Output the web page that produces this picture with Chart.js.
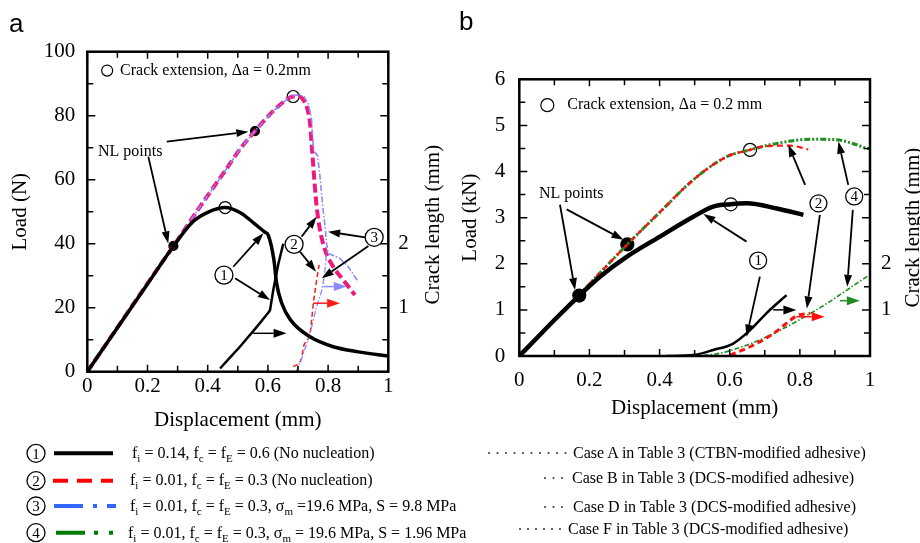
<!DOCTYPE html>
<html><head><meta charset="utf-8">
<script src="https://cdn.jsdelivr.net/npm/chart.js@4/dist/chart.umd.min.js"></script>
<style>
html,body{margin:0;padding:0;background:#fff;width:920px;height:543px;overflow:hidden;font-family:'Liberation Serif','Times New Roman',serif;color:#000;}
canvas{position:absolute;top:0;}
#ca{left:0;} #cb{left:460px;}
.pl{position:absolute;font-family:'Liberation Sans',Arial,sans-serif;font-size:26px;line-height:26px;}
.leg{position:absolute;font-size:16px;height:20px;line-height:20px;white-space:nowrap;}
.leg sub{font-size:11px;vertical-align:-4px;line-height:0;}
#lg{position:absolute;left:0;top:440px;}
</style></head>
<body>
<canvas id="ca" width="460" height="445"></canvas>
<canvas id="cb" width="460" height="445"></canvas>
<div class="pl" style="left:9px;top:10px;">a</div>
<div class="pl" style="left:459px;top:8px;">b</div>

<svg id="lg" width="920" height="103">
  <g fill="none" stroke="#000" stroke-width="1.3">
    <circle cx="36" cy="13.3" r="9"/><circle cx="36" cy="40.7" r="9"/>
    <circle cx="36" cy="66" r="9"/><circle cx="36" cy="92.7" r="9"/>
  </g>
  <g font-family="Liberation Serif" font-size="15" text-anchor="middle" fill="#000">
    <text x="36" y="18.5">1</text><text x="36" y="45.9">2</text>
    <text x="36" y="71.2">3</text><text x="36" y="97.9">4</text>
  </g>
  <line x1="54" y1="13.3" x2="113" y2="13.3" stroke="#000" stroke-width="4"/>
  <line x1="53" y1="40.7" x2="113" y2="40.7" stroke="#ff0000" stroke-width="4" stroke-dasharray="15 9"/>
  <line x1="54" y1="66" x2="116" y2="66" stroke="#3366ff" stroke-width="4" stroke-dasharray="29 10 4 10 9"/>
  <line x1="56" y1="92.7" x2="113" y2="92.7" stroke="#007a00" stroke-width="4" stroke-dasharray="29 9 4 11 4"/>
  <g fill="#333">
    <circle cx="489" cy="13" r="1"/><circle cx="497.5" cy="13" r="1"/><circle cx="506" cy="13" r="1"/><circle cx="514.5" cy="13" r="1"/><circle cx="523" cy="13" r="1"/><circle cx="531.5" cy="13" r="1"/><circle cx="540" cy="13" r="1"/><circle cx="548.5" cy="13" r="1"/><circle cx="557" cy="13" r="1"/><circle cx="565.5" cy="13" r="1"/>
    <circle cx="545" cy="38" r="1"/><circle cx="553.5" cy="38" r="1"/><circle cx="562" cy="38" r="1"/>
    <circle cx="545" cy="67" r="1"/><circle cx="553.5" cy="67" r="1"/><circle cx="562" cy="67" r="1"/>
    <circle cx="520" cy="89" r="1"/><circle cx="528" cy="89" r="1"/><circle cx="536" cy="89" r="1"/><circle cx="544" cy="89" r="1"/><circle cx="552" cy="89" r="1"/><circle cx="560" cy="89" r="1"/>
  </g>
</svg>
<div class="leg" style="left:132px;top:443px;">f<sub>i</sub> = 0.14, f<sub>c</sub> = f<sub>E</sub> = 0.6 (No nucleation)</div>
<div class="leg" style="left:130px;top:470px;">f<sub>i</sub> = 0.01, f<sub>c</sub> = f<sub>E</sub> = 0.3 (No nucleation)</div>
<div class="leg" style="left:130px;top:496px;">f<sub>i</sub> = 0.01, f<sub>c</sub> = f<sub>E</sub> = 0.3, σ<sub>m</sub> =19.6 MPa, S = 9.8 MPa</div>
<div class="leg" style="left:128px;top:523px;">f<sub>i</sub> = 0.01, f<sub>c</sub> = f<sub>E</sub> = 0.3, σ<sub>m</sub> = 19.6 MPa, S = 1.96 MPa</div>
<div class="leg" style="left:573px;top:443px;">Case A in Table 3 (CTBN-modified adhesive)</div>
<div class="leg" style="left:572px;top:468px;">Case B in Table 3 (DCS-modified adhesive)</div>
<div class="leg" style="left:573px;top:497px;">Case D in Table 3 (DCS-modified adhesive)</div>
<div class="leg" style="left:568px;top:519px;">Case F in Table 3 (DCS-modified adhesive)</div>

<script>
// ---------------- DATA: panel a (load in N, crack length in mm) ----------------
const xTicks = [0, 0.2, 0.4, 0.6, 0.8, 1];
const xTickLabels = ['0', '0.2', '0.4', '0.6', '0.8', '1'];
const aYTicks = [0, 20, 40, 60, 80, 100];
const aYTickLabels = ['0', '20', '40', '60', '80', '100'];
const aCrackTicks = [1, 2];
const aCrackTickLabels = ['1', '2'];

const aLoad1X = [0, 0.1, 0.2, 0.286, 0.35, 0.40, 0.458, 0.51, 0.551, 0.59, 0.601, 0.62, 0.629, 0.646, 0.675, 0.74, 0.817, 0.9, 1.0];
const aLoad1Y = [0, 13.7, 27.4, 39.2, 46.8, 49.8, 51.3, 49.6, 46.6, 43.6, 42.7, 34.9, 27.6, 21.4, 16.2, 10.9, 7.8, 6.2, 4.9];
const aCrack1X = [0.441, 0.47, 0.507, 0.563, 0.601, 0.607, 0.618, 0.635, 0.651];
const aCrack1Y = [0.05, 0.2, 0.39, 0.70, 0.92, 0.96, 1.28, 1.69, 2.0];

const aLoad2X = [0, 0.1, 0.2, 0.29, 0.374, 0.452, 0.507, 0.557, 0.618, 0.662, 0.684, 0.705, 0.718, 0.729, 0.74, 0.745, 0.751, 0.756, 0.762, 0.773, 0.79, 0.817, 0.85, 0.889];
const aLoad2Y = [0, 13.8, 27.6, 39.8, 51.5, 62, 69.5, 75.2, 81.5, 85, 86, 86, 84.9, 82.8, 77.6, 71.4, 64.1, 57.8, 51.6, 44.3, 38, 32.8, 28.7, 24];
const aCrack2X = [0.684, 0.712, 0.718, 0.74, 0.751, 0.762, 0.77];
const aCrack2Y = [0.08, 0.21, 0.39, 0.6, 1.07, 1.43, 1.67];

const aLoad3X = [0, 0.1, 0.2, 0.29, 0.374, 0.452, 0.507, 0.557, 0.618, 0.662, 0.684, 0.701, 0.72, 0.735, 0.745, 0.748, 0.752, 0.765, 0.772, 0.778, 0.784, 0.79, 0.795, 0.8, 0.82, 0.839, 0.867, 0.9];
const aLoad3Y = [0, 13.8, 27.6, 39.8, 51.5, 62, 69.5, 75.2, 81.5, 85, 86.2, 86.5, 86, 83.5, 79, 74, 69, 67.5, 62, 56, 50, 45.3, 40, 37, 36.2, 35.4, 32.8, 28.1];
const aCrack3X = [0.693, 0.705, 0.718, 0.74, 0.762, 0.779, 0.79, 0.795, 0.80];
const aCrack3Y = [0, 0.12, 0.29, 0.6, 1.02, 1.28, 1.59, 1.85, 1.88];

const aNLX = [0.286, 0.557];
const aNLY = [39.3, 75.2];
const aExtX = [0.458, 0.684];
const aExtY = [51.3, 86];

// ---------------- DATA: panel b (load in kN, crack length in mm) ----------------
const bYTicks = [0, 1, 2, 3, 4, 5, 6];
const bYTickLabels = ['0', '1', '2', '3', '4', '5', '6'];
const bCrackTicks = [1, 2];
const bCrackTickLabels = ['1', '2'];

const bLoad1X = [0, 0.05, 0.1, 0.171, 0.23, 0.306, 0.401, 0.496, 0.553, 0.603, 0.648, 0.734, 0.81];
const bLoad1Y = [0, 0.39, 0.78, 1.31, 1.72, 2.15, 2.59, 3.02, 3.24, 3.29, 3.31, 3.2, 3.06];
const bCrack1X = [0.42, 0.496, 0.553, 0.61, 0.658, 0.705, 0.762];
const bCrack1Y = [0, 0.02, 0.13, 0.27, 0.56, 0.93, 1.32];

const bLoad2X = [0, 0.05, 0.1, 0.171, 0.211, 0.308, 0.401, 0.496, 0.591, 0.658, 0.70, 0.772, 0.824];
const bLoad2Y = [0, 0.39, 0.78, 1.33, 1.65, 2.42, 3.12, 3.82, 4.32, 4.47, 4.55, 4.56, 4.48];
const bCrack2X = [0.601, 0.658, 0.725, 0.762, 0.791, 0.829];
const bCrack2Y = [0.02, 0.2, 0.49, 0.71, 0.87, 0.93];

const bLoad4X = [0, 0.05, 0.1, 0.171, 0.211, 0.308, 0.401, 0.496, 0.591, 0.658, 0.734, 0.829, 0.905, 0.962, 0.995, 1.0];
const bLoad4Y = [0, 0.39, 0.78, 1.33, 1.65, 2.42, 3.12, 3.82, 4.32, 4.47, 4.61, 4.70, 4.69, 4.58, 4.5, 4.5];
const bCrack4X = [0.496, 0.572, 0.686, 0.781, 0.877, 0.934, 0.995];
const bCrack4Y = [0, 0.06, 0.35, 0.71, 1.14, 1.43, 1.74];

const bNLX = [0.171, 0.308];
const bNLY = [1.31, 2.42];
const bExtX = [0.603, 0.658];
const bExtY = [3.29, 4.47];

// ---------------- helpers ----------------
Chart.defaults.font.family = "'Liberation Serif','Times New Roman',serif";
Chart.defaults.color = '#000';
const SERIF = "'Liberation Serif','Times New Roman',serif";
function pts(xs, ys) { return xs.map((x, i) => ({x: x, y: ys[i]})); }

function line(xs, ys, color, width, dash, axis, interp) {
  return {data: pts(xs, ys), borderColor: color, borderWidth: width, borderDash: dash || [],
    yAxisID: axis || 'y', pointRadius: 0, fill: false,
    cubicInterpolationMode: interp === false ? 'default' : 'monotone', tension: 0};
}
function marks(xs, ys, r, fillColor) {
  return {data: pts(xs, ys), showLine: false, pointRadius: r, pointBackgroundColor: fillColor,
    pointBorderColor: '#000', pointBorderWidth: 1.2, yAxisID: 'y'};
}

function arrow(ctx, x1, y1, x2, y2, color, lw, hl, hw) {
  const a = Math.atan2(y2 - y1, x2 - x1);
  const bx = x2 - hl * Math.cos(a), by = y2 - hl * Math.sin(a);
  ctx.strokeStyle = color; ctx.fillStyle = color; ctx.lineWidth = lw; ctx.setLineDash([]);
  ctx.beginPath(); ctx.moveTo(x1, y1); ctx.lineTo(bx, by); ctx.stroke();
  ctx.beginPath(); ctx.moveTo(x2, y2);
  ctx.lineTo(bx + hw * Math.sin(a), by - hw * Math.cos(a));
  ctx.lineTo(bx - hw * Math.sin(a), by + hw * Math.cos(a));
  ctx.closePath(); ctx.fill();
}

function makeChart(id, P) {
  const deco = {
    id: 'deco' + id,
    afterDatasetsDraw(chart) {
      const ctx = chart.ctx, xs = chart.scales.x, ys = chart.scales.y;
      const X = v => xs.getPixelForValue(v), Y = v => ys.getPixelForValue(v);
      ctx.save();
      P.arrows.forEach(a => arrow(ctx, X(a[0]), Y(a[1]), X(a[2]), Y(a[3]), '#000', 1.8, 12, 4));
      P.hArrows.forEach(a => arrow(ctx, X(a[0]), Y(a[2]), X(a[1]), Y(a[2]), a[3], 1.5, 13, 4.5));
      P.circled.forEach(c => {
        ctx.beginPath(); ctx.arc(X(c[0]), Y(c[1]), P.cr, 0, Math.PI * 2);
        ctx.fillStyle = '#fff'; ctx.fill();
        ctx.strokeStyle = '#000'; ctx.lineWidth = 1.3; ctx.stroke();
        ctx.fillStyle = '#000'; ctx.font = '15px ' + SERIF; ctx.textAlign = 'center'; ctx.textBaseline = 'middle';
        ctx.fillText(c[2], X(c[0]), Y(c[1]) + 1);
      });
      ctx.font = '16px ' + SERIF; ctx.textAlign = 'left'; ctx.textBaseline = 'middle'; ctx.fillStyle = '#000';
      ctx.fillText('NL points', X(P.nlText[0]), Y(P.nlText[1]));
      ctx.beginPath(); ctx.arc(X(P.legPt[0]), Y(P.legPt[1]), P.legR, 0, Math.PI * 2);
      ctx.fillStyle = '#fff'; ctx.fill(); ctx.lineWidth = 1.2; ctx.strokeStyle = '#000'; ctx.stroke();
      ctx.fillStyle = '#000';
      ctx.fillText(P.legText, X(P.legPt[2]), Y(P.legPt[1]));
      ctx.restore();
    },
    afterDraw(chart) {
      const ctx = chart.ctx, ca = chart.chartArea, xs = chart.scales.x, ys = chart.scales.y;
      ctx.save();
      ctx.strokeStyle = '#000'; ctx.lineWidth = 1.5; ctx.setLineDash([]);
      ctx.beginPath();
      for (let v = 0; v <= 1.0001; v += 0.1) {
        const px = xs.getPixelForValue(v);
        const L = (Math.round(v * 10) % 2 === 0) ? 7 : 6;
        ctx.moveTo(px, ca.bottom); ctx.lineTo(px, ca.bottom - L);
        ctx.moveTo(px, ca.top); ctx.lineTo(px, ca.top + L);
      }
      for (let k = 0; k <= P.yMax / P.yMinor + 0.01; k++) {
        const py = ys.getPixelForValue(k * P.yMinor);
        const L = (k % 2 === 0) ? 8 : 6;
        ctx.moveTo(ca.left, py); ctx.lineTo(ca.left + L, py);
        ctx.moveTo(ca.right, py); ctx.lineTo(ca.right - L, py);
      }
      ctx.stroke();
      ctx.lineWidth = 2.5;
      ctx.strokeRect(ca.left, ca.top, ca.right - ca.left, ca.bottom - ca.top);
      // right axis title (reads bottom-to-top like the left one)
      const y2 = chart.scales.y2;
      ctx.translate(y2.right - P.rtOff, (ca.top + ca.bottom) / 2 + P.rtDy);
      ctx.rotate(-Math.PI / 2);
      ctx.font = '21px ' + SERIF; ctx.textAlign = 'center'; ctx.textBaseline = 'middle'; ctx.fillStyle = '#000';
      ctx.fillText('Crack length (mm)', 0, 0);
      ctx.restore();
    }
  };
  return new Chart(document.getElementById(id), {
    type: 'line',
    data: {datasets: P.datasets},
    options: {
      responsive: false, animation: false, devicePixelRatio: 1,
      layout: {padding: {top: P.top, left: 0, right: 0, bottom: 0}},
      plugins: {legend: {display: false}, tooltip: {enabled: false}},
      scales: {
        x: {type: 'linear', min: 0, max: 1,
          afterFit: s => { s.height = P.xH; },
          afterBuildTicks: s => { s.ticks = xTicks.map(v => ({value: v})); },
          ticks: {callback: (v, i) => xTickLabels[i], font: {size: 21}, padding: P.xPad, maxRotation: 0, autoSkip: false},
          grid: {display: false, drawTicks: false}, border: {display: false},
          title: {display: true, text: 'Displacement (mm)', font: {size: 21, lineHeight: 1}, padding: {top: 0, bottom: P.xTitlePad}}},
        y: {type: 'linear', position: 'left', min: 0, max: P.yMax,
          afterFit: s => { s.width = P.yW; },
          afterBuildTicks: s => { s.ticks = P.yTicks.map(v => ({value: v})); },
          ticks: {callback: (v, i) => P.yLabels[i], font: {size: 21}, padding: P.yPad, autoSkip: false},
          grid: {display: false, drawTicks: false}, border: {display: false},
          title: {display: true, text: P.yTitle, font: {size: 21, lineHeight: 1}, padding: {top: P.yTitlePad, bottom: 0}}},
        y2: {type: 'linear', position: 'right', min: 0, max: P.cMax,
          afterFit: s => { s.width = P.y2W; },
          afterBuildTicks: s => { s.ticks = P.cTicks.map(v => ({value: v})); },
          ticks: {callback: (v, i) => P.cLabels[i], font: {size: 21}, padding: P.y2Pad, autoSkip: false},
          grid: {display: false, drawTicks: false}, border: {display: false}}
      }
    },
    plugins: [deco]
  });
}

// ---------------- panel a ----------------
makeChart('ca', {
  top: 51.7, xH: 445 - 371.7, yW: 87.3, y2W: 460 - 388.3,
  xPad: 2, xTitlePad: 14.5, yPad: 12, yTitlePad: 9.5, y2Pad: 10,
  yMax: 100, yMinor: 10, cMax: 5, rtOff: 27, rtDy: 13,
  yTicks: aYTicks, yLabels: aYTickLabels, cTicks: aCrackTicks, cLabels: aCrackTickLabels,
  yTitle: 'Load (N)',
  datasets: [
    line(aLoad1X, aLoad1Y, '#000', 3.5, [], 'y'),
    line(aCrack1X, aCrack1Y, '#000', 2.5, [], 'y2', false),
    line(aLoad3X, aLoad3Y, '#8a8aff', 1.6, [6, 2, 1.5, 2], 'y', false),
    line(aCrack3X, aCrack3Y, '#8a8aff', 1.3, [6, 2, 1.5, 2], 'y2'),
    line(aLoad2X, aLoad2Y, '#f0187c', 4, [9, 4], 'y'),
    line(aCrack2X, aCrack2Y, '#ff1a1a', 1.5, [5, 3], 'y2'),
    marks(aNLX, aNLY, 4.5, '#000'),
    marks(aExtX, aExtY, 6, '#fff')
  ],
  arrows: [
    [0.2027, 67.2, 0.269, 40.1], [0.264, 71.9, 0.535, 75.0],
    [0.485, 32.8, 0.585, 43.25], [0.491, 29.2, 0.607, 22.4],
    [0.712, 42.2, 0.762, 48.4], [0.707, 37.5, 0.760, 31.25],
    [0.923, 42, 0.80, 43.75], [0.934, 39.3, 0.779, 29.2]
  ],
  hArrows: [[0.551, 0.662, 12, '#000'], [0.75, 0.84, 21.4, '#ff1a1a'], [0.784, 0.862, 26.6, '#8a8aff']],
  circled: [[0.454, 30.2, '1'], [0.687, 39.8, '2'], [0.953, 42, '3']], cr: 9,
  nlText: [0.0355, 68.7], legPt: [0.066, 94.1, 0.109], legR: 5.5,
  legText: 'Crack extension, \u0394a = 0.2mm'
});

// ---------------- panel b ----------------
makeChart('cb', {
  top: 79.3, xH: 445 - 356, yW: 59.3, y2W: 50,
  xPad: 11.4, xTitlePad: 26.5, yPad: 14, yTitlePad: 0, y2Pad: 11,
  yMax: 6, yMinor: 0.5, cMax: 6, rtOff: 7, rtDy: 10,
  yTicks: bYTicks, yLabels: bYTickLabels, cTicks: bCrackTicks, cLabels: bCrackTickLabels,
  yTitle: 'Load (kN)',
  datasets: [
    line(bLoad1X, bLoad1Y, '#000', 4.5, [], 'y'),
    line(bCrack1X, bCrack1Y, '#000', 2.5, [], 'y2'),
    line(bLoad2X, bLoad2Y, '#ff1010', 2.2, [6, 4], 'y'),
    line(bCrack2X, bCrack2Y, '#ff1010', 3, [6, 4], 'y2'),
    line(bLoad4X, bLoad4Y, '#1e8c1e', 3, [6, 2, 2, 2, 2, 2], 'y'),
    line(bCrack4X, bCrack4Y, '#1e8c1e', 1.6, [5, 2, 1.5, 2], 'y2'),
    marks(bNLX, bNLY, 6.5, '#000'),
    marks(bExtX, bExtY, 6.5, '#fff')
  ],
  arrows: [
    [0.116, 3.28, 0.159, 1.43], [0.135, 3.18, 0.297, 2.52],
    [0.648, 2.48, 0.525, 3.08], [0.686, 1.72, 0.648, 0.42],
    [0.815, 3.71, 0.767, 4.58], [0.857, 3.06, 0.82, 1.03],
    [0.938, 3.71, 0.91, 4.65], [0.951, 3.17, 0.935, 1.5]
  ],
  hArrows: [[0.724, 0.79, 1.0, '#000'], [0.79, 0.871, 0.85, '#ff1010'], [0.914, 0.971, 1.2, '#1e8c1e']],
  circled: [[0.681, 2.07, '1'], [0.853, 3.31, '2'], [0.955, 3.46, '4']], cr: 8.5,
  nlText: [0.056, 3.51], legPt: [0.08, 5.44, 0.137], legR: 6.5,
  legText: 'Crack extension, \u0394a = 0.2 mm'
});
</script>
</body></html>
